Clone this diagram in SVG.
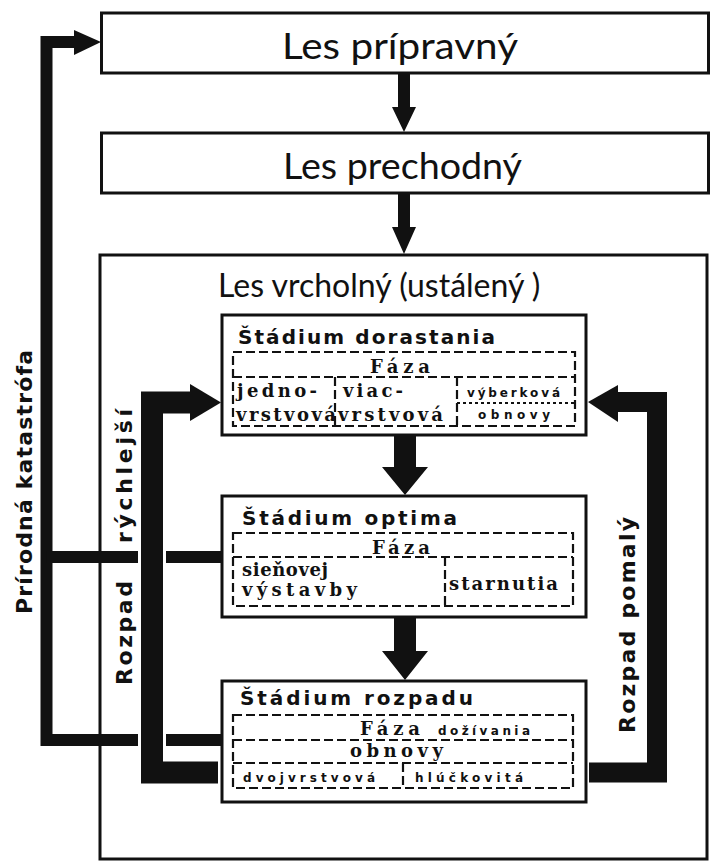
<svg xmlns="http://www.w3.org/2000/svg" width="712" height="865" viewBox="0 0 712 865">
  <style>
    .box { fill: #fff; stroke: #111; stroke-width: 3; }
    .frame { fill: none; stroke: #111; stroke-width: 2.2; stroke-dasharray: 9 4; }
    .dash { fill: none; stroke: #111; stroke-width: 2.2; stroke-dasharray: 9 4; }
    .dot { fill: none; stroke: #111; stroke-width: 2; stroke-dasharray: 3 3; }
    .big { font-family: Lato, "Noto Sans", sans-serif; font-size: 37px; fill: #111; }
    .title { font-family: Lato, "Noto Sans", sans-serif; font-size: 32px; fill: #111; }
    .stage { font-family: "DejaVu Sans", "Noto Sans", sans-serif; font-size: 20px; font-weight: bold; fill: #111; }
    .serif { font-family: "DejaVu Serif", "Liberation Serif", serif; font-size: 18px; font-weight: bold; fill: #111; }
    .small { font-family: "DejaVu Sans", "Noto Sans", sans-serif; font-size: 12px; font-weight: bold; fill: #111; }
    .side { font-family: "DejaVu Sans", "Noto Sans", sans-serif; font-size: 22px; font-weight: bold; fill: #111; }
    .line { fill: none; stroke: #111; stroke-linejoin: miter; stroke-linecap: butt; }
    .head { fill: #111; }
  </style>

  <rect width="712" height="865" fill="#fff"/>

  <!-- succession stages -->
  <g id="les-pripravny">
    <rect class="box" x="101.5" y="13" width="607" height="60"/>
    <text class="big" x="282" y="59" textLength="236" lengthAdjust="spacingAndGlyphs">Les prípravný</text>
  </g>

  <g id="les-prechodny">
    <rect class="box" x="101.5" y="133" width="607" height="60"/>
    <text class="big" x="283" y="179" textLength="239" lengthAdjust="spacingAndGlyphs">Les prechodný</text>
  </g>

  <g id="les-vrcholny">
    <rect class="box" x="100" y="255" width="607" height="604" stroke-width="2.5"/>
    <text class="title" x="218" y="297">Les vrcholný (ustálený<tspan dx="8">)</tspan></text>
  </g>

  <g id="stadium-dorastania">
    <rect class="box" x="222" y="315" width="364" height="120" stroke-width="2.5"/>
    <text class="stage" x="238" y="344" textLength="257" lengthAdjust="spacing">Štádium dorastania</text>
    <rect class="frame" x="233" y="352" width="342" height="74"/>
    <line class="dash" x1="233" y1="377" x2="575" y2="377"/>
    <line class="dash" x1="335" y1="377" x2="335" y2="426"/>
    <line class="dash" x1="457" y1="377" x2="457" y2="426"/>
    <line class="dot" x1="457" y1="403" x2="575" y2="403"/>
    <text class="serif" x="370" y="373" font-size="21" textLength="60" lengthAdjust="spacing">Fáza</text>
    <text class="serif" x="237" y="397" textLength="80" lengthAdjust="spacing">jedno-</text>
    <text class="serif" x="236" y="421" textLength="100" lengthAdjust="spacing">vrstvová</text>
    <text class="serif" x="343" y="397" textLength="60" lengthAdjust="spacing">viac-</text>
    <text class="serif" x="338" y="421" textLength="105" lengthAdjust="spacing">vrstvová</text>
    <text class="small" x="467" y="397" textLength="93" lengthAdjust="spacing">výberková</text>
    <text class="small" x="478" y="419" textLength="72" lengthAdjust="spacing">obnovy</text>
  </g>

  <g id="stadium-optima">
    <rect class="box" x="222" y="496" width="364" height="121" stroke-width="2.5"/>
    <text class="stage" x="242" y="525" textLength="215" lengthAdjust="spacing">Štádium optima</text>
    <rect class="frame" x="233" y="533" width="340" height="73"/>
    <line class="dash" x1="233" y1="557" x2="573" y2="557"/>
    <line class="dash" x1="445" y1="557" x2="445" y2="606"/>
    <text class="serif" x="372" y="554" font-size="21" textLength="58" lengthAdjust="spacing">Fáza</text>
    <text class="serif" x="242" y="576" textLength="86" lengthAdjust="spacing">sieňovej</text>
    <text class="serif" x="242" y="596" textLength="115" lengthAdjust="spacing">výstavby</text>
    <text class="serif" x="449" y="590" textLength="109" lengthAdjust="spacing">starnutia</text>
  </g>

  <g id="stadium-rozpadu">
    <rect class="box" x="222" y="681" width="364" height="121" stroke-width="2.5"/>
    <text class="stage" x="240" y="705" textLength="233" lengthAdjust="spacing">Štádium rozpadu</text>
    <rect class="frame" x="233" y="715" width="340" height="73"/>
    <line class="dash" x1="233" y1="740" x2="573" y2="740"/>
    <line class="dash" x1="233" y1="763" x2="573" y2="763"/>
    <line class="dash" x1="403" y1="763" x2="403" y2="788"/>
    <text class="serif" x="360" y="735" font-size="23" textLength="60" lengthAdjust="spacing">Fáza</text>
    <text class="small" x="438" y="735" textLength="92" lengthAdjust="spacing">dožívania</text>
    <text class="serif" x="350" y="757" font-size="21" textLength="93" lengthAdjust="spacing">obnovy</text>
    <text class="small" x="243" y="782" textLength="132" lengthAdjust="spacing">dvojvrstvová</text>
    <text class="small" x="415" y="782" textLength="108" lengthAdjust="spacing">hlúčkovitá</text>
  </g>

  <!-- connectors -->
  <g id="connectors">
    <!-- stage to stage -->
    <polygon class="head" points="398,73 410,73 410,107 416,107 404,132 392,107 398,107"/>
    <polygon class="head" points="398,193 410,193 410,227 416,227 404,254 392,227 398,227"/>
    <polygon class="head" points="394,436 416,436 416,467 428,467 405,495 382,467 394,467"/>
    <polygon class="head" points="394,618 416,618 416,651 428,651 405,680 382,651 394,651"/>

    <!-- natural catastrophe: back to the preparatory forest -->
    <path class="line" stroke-width="12" d="M 76 42 H 46.5 V 740 H 138"/>
    <path class="line" stroke-width="12" d="M 166 740 H 222"/>
    <path class="line" stroke-width="12" d="M 46.5 557 H 138"/>
    <path class="line" stroke-width="12" d="M 166 557 H 222"/>
    <polygon class="head" points="74,30 101,42 74,55"/>

    <!-- fast decay -->
    <path class="line" stroke-width="22" d="M 218 772.5 H 152 V 402.5 H 192"/>
    <polygon class="head" points="190,384 221,402.5 190,421"/>

    <!-- slow decay -->
    <path class="line" stroke-width="20" d="M 589 772.5 H 657 V 402 H 616"/>
    <polygon class="head" points="618,385 588,402 618,422"/>
  </g>

  <!-- edge labels -->
  <g id="label-katastrofa">
    <text class="side" transform="rotate(-90)" x="-614" y="32" font-size="21" textLength="264" lengthAdjust="spacing">Prírodná katastrófa</text>
  </g>
  <g id="label-rozpad-rychlejsi">
    <text class="side" transform="rotate(-90)" x="-685" y="132" textLength="104" lengthAdjust="spacing">Rozpad</text>
    <text class="side" transform="rotate(-90)" x="-543" y="132" textLength="134" lengthAdjust="spacing">rýchlejší</text>
  </g>
  <g id="label-rozpad-pomaly">
    <text class="side" transform="rotate(-90)" x="-733" y="635" textLength="216" lengthAdjust="spacing">Rozpad pomalý</text>
  </g>
</svg>
